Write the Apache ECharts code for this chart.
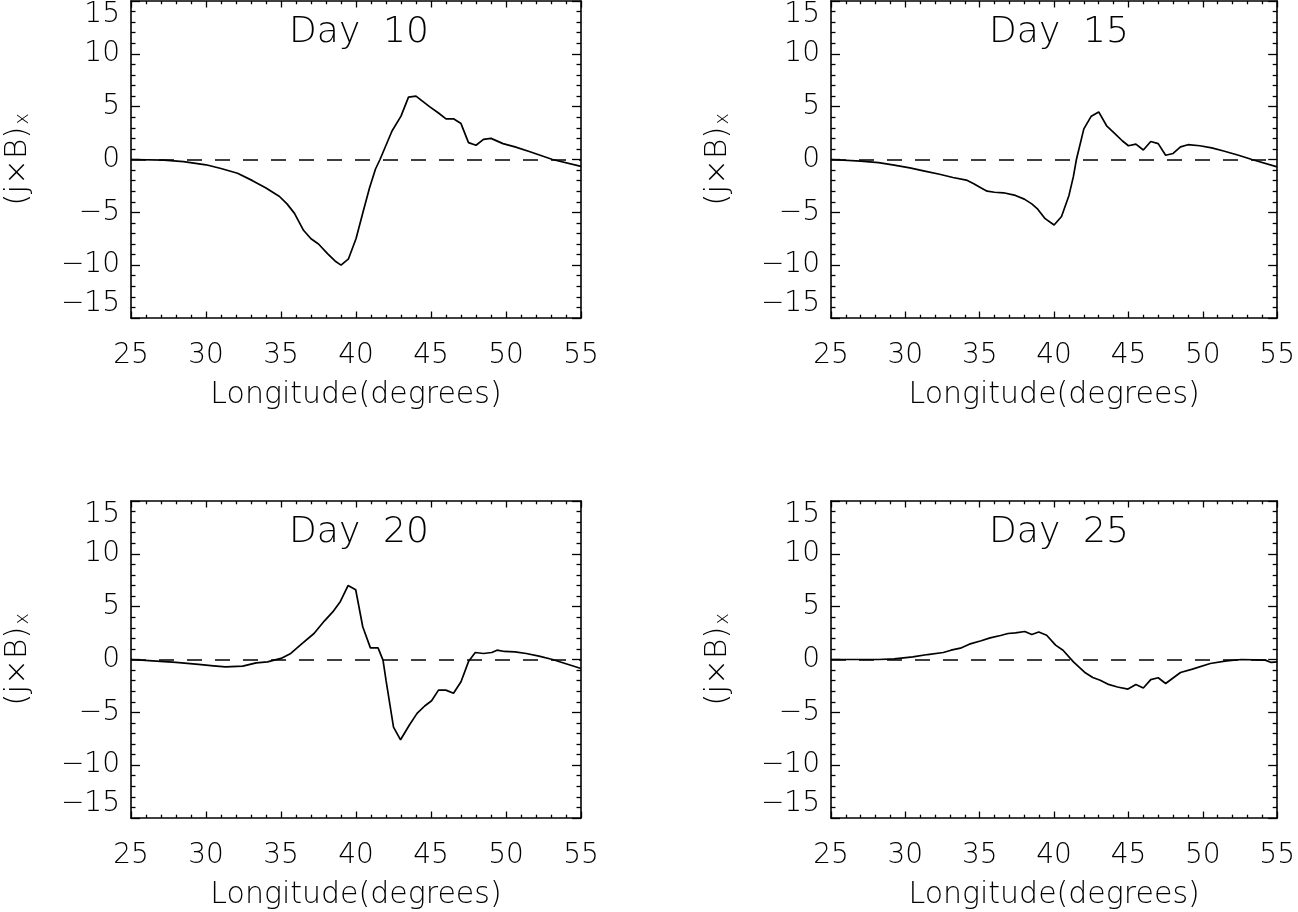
<!DOCTYPE html>
<html>
<head>
<meta charset="utf-8">
<script src="https://cdn.jsdelivr.net/npm/echarts@6/dist/echarts.min.js"></script>
<style>
html,body{margin:0;padding:0;background:#fff;}
#chart{width:1298px;height:912px;}
</style>
</head>
<body>
<div id="chart"></div>
<script>
// ---- Data ----
const dayTitles = ['Day  10', 'Day  15', 'Day  20', 'Day  25'];
const xTicks = [25, 30, 35, 40, 45, 50, 55];
const yTicks = [-15, -10, -5, 0, 5, 10, 15];

const lon10 = [25, 27.2, 28.5, 30.0, 31.0, 32.1, 33.1, 34.0, 34.9, 35.4, 35.9, 36.5, 37.0, 37.5, 38.1, 38.6, 39.0, 39.5, 40.0, 40.5, 40.9, 41.3, 41.6, 42.4, 43.0, 43.5, 44.0, 44.9, 45.5, 46.0, 46.5, 47.0, 47.5, 48.0, 48.5, 49.0, 49.8, 50.6, 51.6, 53.1, 55];
const val10 = [0, -0.06, -0.2, -0.5, -0.85, -1.3, -2.0, -2.7, -3.5, -4.2, -5.1, -6.7, -7.5, -8.0, -8.9, -9.6, -10.0, -9.4, -7.5, -4.8, -2.7, -0.9, 0, 2.7, 4.1, 5.9, 6.0, 5.0, 4.4, 3.85, 3.85, 3.4, 1.6, 1.35, 1.9, 2.0, 1.5, 1.2, 0.73, 0, -0.65];

const lon15 = [25, 27.0, 28.2, 29.25, 30.3, 31.3, 32.3, 33.2, 34.1, 34.6, 35.1, 35.5, 36.0, 36.6, 37.4, 38.0, 38.5, 38.9, 39.4, 40.0, 40.5, 41.0, 41.3, 41.5, 42.0, 42.5, 43.0, 43.55, 44.05, 44.6, 45.0, 45.5, 46.0, 46.5, 47.0, 47.5, 48.0, 48.5, 49.0, 49.8, 50.6, 51.4, 52.4, 53.3, 55];
const val15 = [0, -0.16, -0.3, -0.54, -0.8, -1.1, -1.4, -1.7, -1.95, -2.3, -2.7, -3.0, -3.1, -3.15, -3.4, -3.75, -4.2, -4.7, -5.6, -6.2, -5.4, -3.4, -1.6, 0, 2.9, 4.1, 4.5, 3.15, 2.5, 1.75, 1.3, 1.45, 0.9, 1.7, 1.5, 0.4, 0.57, 1.2, 1.4, 1.3, 1.1, 0.8, 0.4, 0, -0.7];

const lon20 = [25, 26.45, 28.0, 29.5, 30.5, 31.3, 32.45, 33.35, 34.1, 35.0, 35.65, 36.4, 37.2, 37.9, 38.45, 38.96, 39.47, 39.98, 40.45, 40.96, 41.47, 41.8, 42.0, 42.5, 42.97, 43.56, 44.07, 44.58, 45.04, 45.5, 45.99, 46.5, 47.0, 47.5, 47.95, 48.5, 49.05, 49.4, 49.9, 50.6, 51.35, 52.2, 53.1, 55];
const val20 = [0, -0.13, -0.28, -0.47, -0.6, -0.7, -0.63, -0.32, -0.22, 0.1, 0.57, 1.5, 2.46, 3.66, 4.5, 5.5, 7.0, 6.6, 3.1, 1.1, 1.1, -0.06, -1.96, -6.4, -7.6, -6.2, -5.1, -4.4, -3.9, -2.9, -2.9, -3.2, -2.1, -0.2, 0.66, 0.57, 0.66, 0.88, 0.76, 0.73, 0.57, 0.32, 0, -0.85];

const lon25 = [25, 28.2, 29.25, 30.5, 31.5, 32.55, 33.07, 33.7, 34.3, 35.1, 35.7, 36.4, 36.9, 37.4, 38.03, 38.5, 38.97, 39.5, 40.1, 40.6, 41.3, 42.1, 42.6, 43.1, 43.6, 44.26, 44.97, 45.5, 46.0, 46.5, 47.0, 47.5, 48.5, 49.3, 50.5, 51.6, 52.6, 54.2, 54.6, 55];
const val25 = [0, 0, 0.06, 0.25, 0.47, 0.66, 0.88, 1.07, 1.45, 1.77, 2.05, 2.27, 2.46, 2.52, 2.65, 2.37, 2.6, 2.3, 1.36, 0.88, -0.22, -1.26, -1.7, -1.96, -2.33, -2.6, -2.8, -2.37, -2.7, -1.9, -1.73, -2.27, -1.23, -0.91, -0.38, -0.13, 0, -0.06, -0.28, -0.22];

const panels = [
  {lon: lon10, val: val10, title: dayTitles[0]},
  {lon: lon15, val: val15, title: dayTitles[1]},
  {lon: lon20, val: val20, title: dayTitles[2]},
  {lon: lon25, val: val25, title: dayTitles[3]}
];

// ---- Layout ----
const FONT = 'DejaVu Sans';
const W = 1298, H = 912;
const gridPos = [
  {left: 131, top: 1},
  {left: 831, top: 1},
  {left: 131, top: 501},
  {left: 831, top: 501}
];
const GW = 450, GH = 317;

const chart = echarts.init(document.getElementById('chart'), null, {renderer: 'canvas', width: W, height: H});

const grids = [], xAxes = [], yAxes = [], series = [], titles = [];
const lineC = '#000';
const minus = v => String(v).replace('-', '\u2212');

gridPos.forEach((g, i) => {
  grids.push({left: g.left, top: g.top, width: GW, height: GH, containLabel: false});
  const common = {
    type: 'value', gridIndex: i,
    axisLine: {show: true, onZero: false, lineStyle: {color: lineC, width: 1.6}},
    splitLine: {show: false}, minorSplitLine: {show: false}
  };
  // bottom x
  xAxes.push(Object.assign({}, common, {
    position: 'bottom', min: xTicks[0], max: xTicks[xTicks.length - 1], interval: 5,
    axisTick: {show: true, inside: true, length: 6.5, lineStyle: {color: lineC, width: 1.3}},
    minorTick: {show: true, splitNumber: 5, length: 3.3, lineStyle: {color: lineC, width: 1.3}},
    axisLabel: {show: true, margin: 24, color: '#000', fontSize: 28, fontFamily: FONT, fontWeight: 200},
    name: 'Longitude(degrees)', nameLocation: 'middle', nameGap: 62,
    nameTextStyle: {color: '#000', fontSize: 30, fontFamily: FONT, fontWeight: 200}
  }));
  // top x (box)
  xAxes.push(Object.assign({}, common, {
    position: 'top', min: xTicks[0], max: xTicks[xTicks.length - 1], interval: 5,
    axisTick: {show: true, inside: true, length: 6.5, lineStyle: {color: lineC, width: 1.3}},
    minorTick: {show: true, splitNumber: 5, length: 3.3, lineStyle: {color: lineC, width: 1.3}},
    axisLabel: {show: false}
  }));
  // left y
  yAxes.push(Object.assign({}, common, {
    position: 'left', min: yTicks[0], max: yTicks[yTicks.length - 1], interval: 5,
    axisTick: {show: true, inside: true, length: 9, lineStyle: {color: lineC, width: 1.3}},
    minorTick: {show: true, splitNumber: 5, length: 4.5, lineStyle: {color: lineC, width: 1.3}},
    axisLabel: {show: true, margin: 11, color: '#000', fontSize: 28, fontFamily: FONT, fontWeight: 200,
      formatter: minus, verticalAlignMaxLabel: 'top', verticalAlignMinLabel: 'bottom'},
    name: '{a|(j×B)}{b|x}', nameLocation: 'middle', nameGap: 98, nameRotate: 90,
    nameTextStyle: {color: '#000', fontFamily: FONT, fontWeight: 200,
      rich: {
        a: {fontSize: 31, fontFamily: FONT, fontWeight: 200, color: '#000'},
        b: {fontSize: 19, fontFamily: FONT, fontWeight: 200, color: '#000', verticalAlign: 'bottom', padding: [12, 0, 0, 2]}
      }}
  }));
  // right y (box)
  yAxes.push(Object.assign({}, common, {
    position: 'right', min: yTicks[0], max: yTicks[yTicks.length - 1], interval: 5,
    axisTick: {show: true, inside: true, length: 9, lineStyle: {color: lineC, width: 1.3}},
    minorTick: {show: true, splitNumber: 5, length: 4.5, lineStyle: {color: lineC, width: 1.3}},
    axisLabel: {show: false}
  }));

  titles.push({
    text: panels[i].title, left: g.left + GW / 2 - 2, top: g.top + 9, textAlign: 'center',
    textStyle: {color: '#000', fontSize: 36, fontFamily: FONT, fontWeight: 200}
  });

  const p = panels[i];
  series.push({
    type: 'line', xAxisIndex: 2 * i, yAxisIndex: 2 * i,
    data: p.lon.map((x, k) => [x, p.val[k]]),
    showSymbol: false, symbol: 'none', smooth: false,
    lineStyle: {color: '#000', width: 1.7},
    animation: false, silent: true,
    markLine: {
      silent: true, symbol: 'none', label: {show: false},
      lineStyle: {color: '#000', width: 1.6, type: [15, 13]},
      data: [{yAxis: 0}], animation: false
    }
  });
});

chart.setOption({
  backgroundColor: '#fff',
  animation: false,
  title: titles,
  grid: grids,
  xAxis: xAxes,
  yAxis: yAxes,
  series: series
});
</script>
</body>
</html>
